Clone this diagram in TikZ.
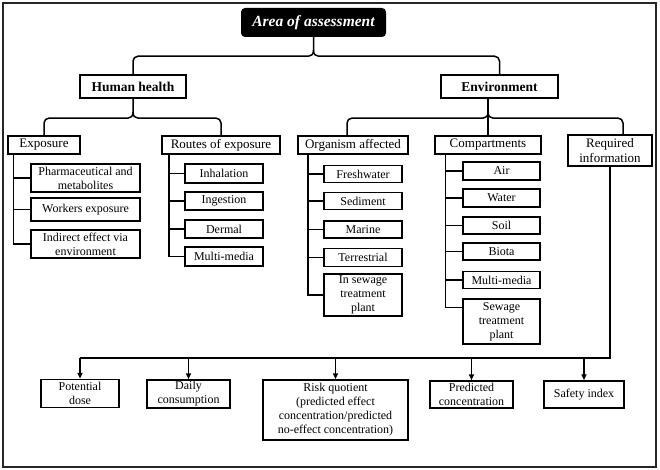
\documentclass[tikz,border=0pt]{standalone}
\usepackage{fontspec}
\setmainfont{Liberation Serif}
\usetikzlibrary{arrows.meta,calc}
\begin{document}
\begin{tikzpicture}[x=1pt,y=-1pt,
  box/.style={draw, line width=1.5pt, inner sep=0pt, align=center, font=\fontsize{12}{14}\selectfont},
  hdr/.style={box, font=\fontsize{13}{15.5}\selectfont},
  mainbox/.style={box, line width=2.2pt, font=\bfseries\fontsize{13.5}{16}\selectfont},
  conn/.style={line width=1.5pt},
  arr/.style={conn, -{Triangle[length=6pt,width=5pt]}}]
\useasboundingbox (0,0) rectangle (660,470);
\draw[line width=2.2pt, black!85] (3,3) rectangle (656,467);

% top
\node[fill=black, rounded corners=4pt, text=white, inner sep=0pt,
  font=\bfseries\itshape\fontsize{15.5}{18}\selectfont,
  minimum width=145pt, minimum height=29pt] (area) at (313.5,22.5) {Area of assessment};
\node[mainbox, minimum width=106pt, minimum height=23pt] (hh) at (133,86.5) {Human health};
\node[mainbox, minimum width=117pt, minimum height=23pt] (env) at (499.5,86.5) {Environment};

% headers
\node[hdr, minimum width=72pt, minimum height=18pt] (expo) at (44,145) {Exposure};
\node[hdr, minimum width=118pt, minimum height=18pt] (routes) at (221,145) {Routes of exposure};
\node[hdr, minimum width=110pt, minimum height=18pt] (org) at (353,145) {Organism affected};
\node[hdr, minimum width=106pt, minimum height=18pt] (comp) at (488,145) {Compartments};
\node[hdr, minimum width=84pt, minimum height=31pt] (req) at (610,150.5) {Required\\information};

% exposure children
\node[box, minimum width=109pt, minimum height=28pt] (ph) at (85.5,178) {Pharmaceutical and\\metabolites};
\node[box, minimum width=109pt, minimum height=23pt] (wk) at (85.5,209.5) {Workers exposure};
\node[box, minimum width=109pt, minimum height=28pt] (ind) at (85.5,244) {Indirect effect via\\environment};

% routes children
\node[box, minimum width=78pt, minimum height=19pt] (inh) at (224,173.5) {Inhalation};
\node[box, minimum width=78pt, minimum height=18pt] (ing) at (224,201) {Ingestion};
\node[box, minimum width=78pt, minimum height=18pt] (der) at (224,229) {Dermal};
\node[box, minimum width=78pt, minimum height=19pt] (mma) at (224,256.5) {Multi-media};

% organism children
\node[box, minimum width=78pt, minimum height=17pt] (fw) at (363,174) {Freshwater};
\node[box, minimum width=78pt, minimum height=17pt] (sed) at (363,201) {Sediment};
\node[box, minimum width=78pt, minimum height=17pt] (mar) at (363,229.5) {Marine};
\node[box, minimum width=78pt, minimum height=18pt] (ter) at (363,257.5) {Terrestrial};
\node[box, minimum width=78pt, minimum height=42pt] (ins) at (363,295) {In sewage\\treatment\\plant};

% compartment children
\node[box, minimum width=77pt, minimum height=18pt] (air) at (501.5,171) {Air};
\node[box, minimum width=77pt, minimum height=18pt] (wat) at (501.5,198) {Water};
\node[box, minimum width=77pt, minimum height=17pt] (soil) at (501.5,225.5) {Soil};
\node[box, minimum width=77pt, minimum height=17pt] (bio) at (501.5,251.5) {Biota};
\node[box, minimum width=77pt, minimum height=17pt] (mmb) at (501.5,280) {Multi-media};
\node[box, minimum width=77pt, minimum height=45pt] (sew) at (501.5,321.5) {Sewage\\treatment\\plant};

% bottom boxes
\node[box, minimum width=78pt, minimum height=28pt] (pd) at (80,393.5) {Potential\\dose};
\node[box, minimum width=83pt, minimum height=28pt] (dc) at (188.5,394) {Daily\\consumption};
\node[box, minimum width=145pt, minimum height=60pt] (rq) at (335.5,410) {Risk quotient\\(predicted effect\\concentration/predicted\\no-effect concentration)};
\node[box, minimum width=83pt, minimum height=27pt] (pc) at (471.5,394.5) {Predicted\\concentration};
\node[box, minimum width=80pt, minimum height=27pt] (si) at (584,394.5) {Safety index};

% top brace
\coordinate (aT) at ($(area.south)+(0,13)$);
\draw[conn] (area.south) -- (aT) .. controls ($(aT)+(0,4)$) and ($(aT)+(-2,6)$) .. ($(aT)+(-5,6)$) [rounded corners=5] -| (hh.north);
\draw[conn] (aT) .. controls ($(aT)+(0,4)$) and ($(aT)+(2,6)$) .. ($(aT)+(5,6)$) [rounded corners=5] -| (env.north);

% human health brace
\coordinate (hT) at ($(hh.south)+(0,13)$);
\draw[conn] (hh.south) -- (hT) .. controls ($(hT)+(0,4)$) and ($(hT)+(-2,6)$) .. ($(hT)+(-5,6)$) [rounded corners=5] -| (expo.north);
\draw[conn] (hT) .. controls ($(hT)+(0,4)$) and ($(hT)+(2,6)$) .. ($(hT)+(5,6)$) [rounded corners=5] -| (routes.north);

% environment brace
\coordinate (eS) at (env.south -| comp.north);
\coordinate (eT) at ($(eS)+(0,13)$);
\coordinate (orgN) at ($(org.north)+(-6,0)$);
\coordinate (reqN) at ($(req.north)+(13,0)$);
\draw[conn] (eS) -- (comp.north);
\draw[conn] (eT) .. controls ($(eT)+(0,4)$) and ($(eT)+(-2,6)$) .. ($(eT)+(-5,6)$) [rounded corners=5] -| (orgN);
\draw[conn] (eT) .. controls ($(eT)+(0,4)$) and ($(eT)+(2,6)$) .. ($(eT)+(5,6)$) [rounded corners=5] -| (reqN);

% trunks
\coordinate (t1) at ($(expo.south west)+(6,0)$);
\foreach \n in {ph,wk,ind} \draw[conn] (t1) |- (\n.west);
\coordinate (t2) at ($(routes.south west)+(7.5,0)$);
\foreach \n in {inh,ing,der,mma} \draw[conn] (t2) |- (\n.west);
\coordinate (t3) at ($(org.south west)+(10.5,0)$);
\foreach \n in {fw,sed,mar,ter,ins} \draw[conn] (t3) |- (\n.west);
\coordinate (t4) at ($(comp.south west)+(11,0)$);
\foreach \n in {air,wat,soil,bio,mmb} \draw[conn] (t4) |- (\n.west);
\draw[conn] (t4) |- ($(sew.north west)+(0,9)$);

% bottom bar
\coordinate (bar) at (req.south |- 0,358);
\draw[conn] (req.south) -- (bar) -- (bar -| pd.north);
\foreach \n in {pd,dc,rq,pc,si} \draw[arr] (bar -| \n.north) -- (\n.north);
\end{tikzpicture}
\end{document}
